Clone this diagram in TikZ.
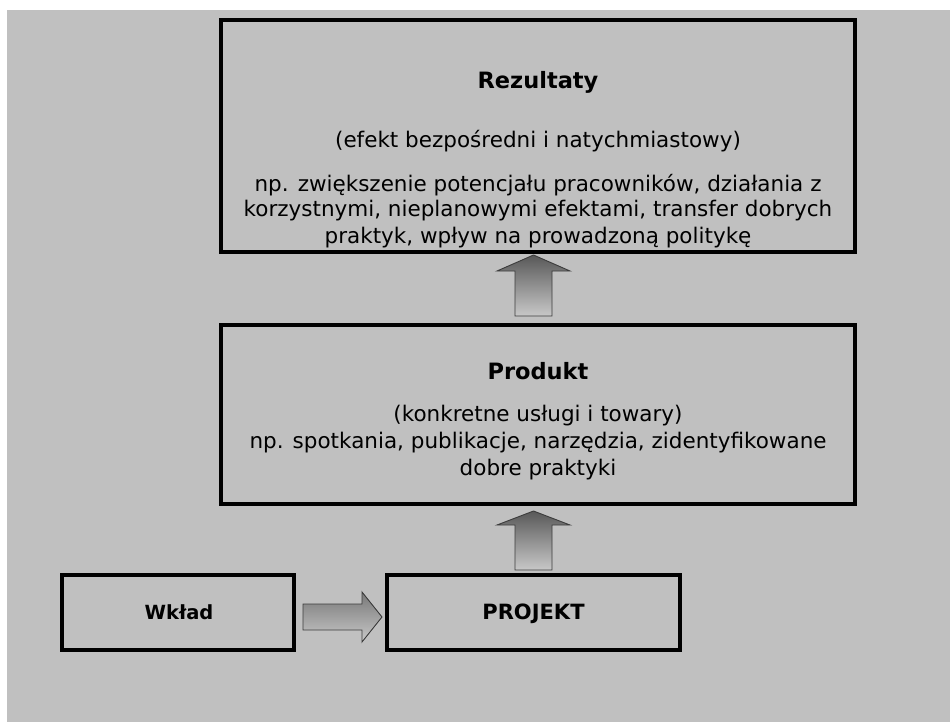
\documentclass[tikz,border=0pt]{standalone}
\usepackage{fontspec}
\setmainfont{DejaVu Sans}
\definecolor{bggray}{RGB}{192,192,192}
\definecolor{arrdark}{RGB}{88,88,88}
\definecolor{arrlight}{RGB}{200,200,200}
\definecolor{arrmid}{RGB}{120,120,120}
\definecolor{arredge}{RGB}{60,60,60}
\begin{document}
\begin{tikzpicture}[x=1pt,y=-1pt,
  box/.style={draw=black, line width=4pt, rectangle, inner sep=0pt, outer sep=0pt},
  txt/.style={inner sep=0pt, anchor=base, font=\fontsize{21.5}{25}\selectfont},
  ttl/.style={inner sep=0pt, anchor=base, font=\fontsize{22.5}{25}\selectfont\bfseries},
  small/.style={inner sep=0pt, anchor=base, font=\fontsize{19.5}{22}\selectfont\bfseries},
  blockarrow/.style={draw=arredge, line width=0.9pt, line join=miter}]
\useasboundingbox (0,0) rectangle (950,722);
\fill[bggray] (7,10) rectangle (950,722);

% boxes
\node[box, minimum width=634pt, minimum height=232pt] (rez) at (538,136) {};
\node[box, minimum width=634pt, minimum height=179pt] (prod) at (538,414.5) {};
\node[box, minimum width=232pt, minimum height=75pt] (wklad) at (178,612.5) {};
\node[box, minimum width=293pt, minimum height=75pt] (proj) at (533.5,612.5) {};

% texts in Rezultaty
\node[ttl] (rezT) at (538,89) {Rezultaty};
\node[txt] (rez1) at (538,148) {(efekt bezpośredni i natychmiastowy)};
\node[txt] (rez2) at (538,192) {np. zwiększenie potencjału pracowników, działania z};
\node[txt] (rez3) at (538,217) {korzystnymi, nieplanowymi efektami, transfer dobrych};
\node[txt] (rez4) at (538,243) {praktyk, wpływ na prowadzoną politykę};

% texts in Produkt
\node[ttl] (prodT) at (538,379) {Produkt};
\node[txt] (prod1) at (538,421) {(konkretne usługi i towary)};
\node[txt] (prod2) at (538,448) {np. spotkania, publikacje, narzędzia, zidentyfikowane};
\node[txt] (prod3) at (538,475) {dobre praktyki};

% bottom row
\node[small] (wkladT) at (179,619) {Wkład};
\node[small, font=\fontsize{21}{22}\selectfont\bfseries] (projT) at (533.5,619.5) {PROJEKT};

% block arrows
\shade[blockarrow, top color=arrdark, bottom color=arrlight]
  (533.5,255) -- (570,271) -- (552,271) -- (552,316) -- (515,316) -- (515,271) -- (497,271) -- cycle;
\shade[blockarrow, top color=arrdark, bottom color=arrlight]
  (533.5,511) -- (570,525) -- (552,525) -- (552,570) -- (515,570) -- (515,525) -- (497,525) -- cycle;
\shade[blockarrow, top color=arrmid, bottom color=arrlight]
  (303,604) -- (362,604) -- (362,592) -- (382,617) -- (362,642) -- (362,630) -- (303,630) -- cycle;
\end{tikzpicture}
\end{document}
